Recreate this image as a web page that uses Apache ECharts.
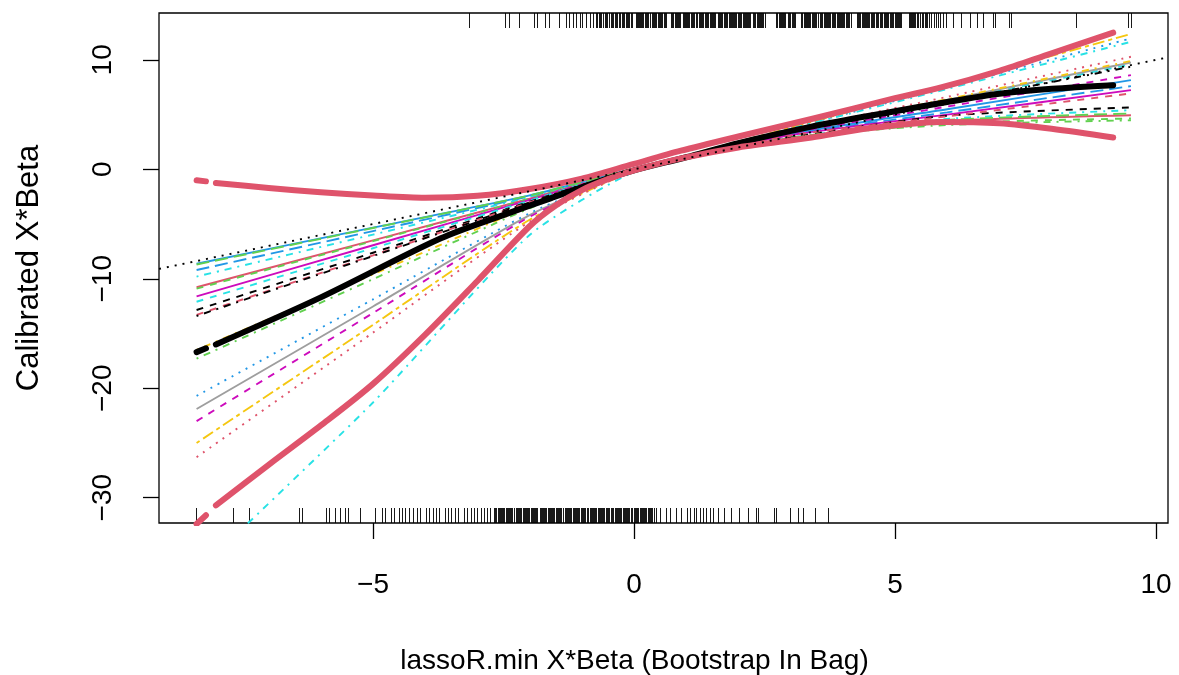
<!DOCTYPE html>
<html><head><meta charset="utf-8">
<script src="https://cdn.jsdelivr.net/npm/echarts@6/dist/echarts.min.js"></script>
<style>html,body{margin:0;padding:0;background:#fff;}#c{width:1179px;height:675px;}</style>
</head><body><div id="c"></div>
<script>
// ---------- data ----------
const xTicks = [-5, 0, 5, 10];
const yTicks = [-30, -20, -10, 0, 10];
const xRange = [-9.10, 10.23];
const yRange = [-32.31, 14.28];
const xTitle = 'lassoR.min X*Beta (Bootstrap In Bag)';
const yTitle = 'Calibrated X*Beta';

// bootstrap calibration curves, all sampled at bootX
const bootX = [-8.38, -5, -2, 0, 3, 6, 9.52];
const bootY = [
  [-8.63, -5.33, -2.38, 0.05, 3.25, 5.49, 8.15],
  [-9.2, -5.64, -2.46, 0.0, 3.17, 5.2, 7.6],
  [-9.8, -5.96, -2.54, 0.0, 2.88, 4.6, 5.4],
  [-10.77, -6.49, -2.67, -0.05, 2.82, 4.4, 4.94],
  [-10.9, -6.56, -2.69, -0.05, 2.78, 4.2, 4.64],
  [-11.6, -6.94, -2.79, 0.0, 3.12, 5.0, 7.23],
  [-12.1, -7.21, -2.86, 0.05, 3.43, 6.25, 9.58],
  [-12.85, -7.62, -2.96, -0.05, 2.92, 4.9, 5.65],
  [-13.3, -7.86, -3.02, 0.0, 3.08, 4.84, 6.93],
  [-13.4, -7.92, -3.03, 0.05, 3.41, 6.13, 9.37],
  [-17.3, -10.03, -3.56, -0.1, 2.9, 4.05, 4.48],
  [-20.7, -11.88, -4.02, -0.1, 3.75, 7.5, 11.96],
  [-21.9, -12.53, -4.19, -0.1, 3.46, 6.34, 9.76],
  [-23.0, -13.13, -4.34, -0.1, 3.31, 5.73, 8.6],
  [-25.0, -14.21, -4.61, -0.15, 3.8, 7.72, 12.36],
  [-26.3, -14.92, -4.79, -0.15, 3.53, 6.62, 10.28],
  [-36.8, -21.3, -6.0, -0.25, 3.71, 7.34, 11.65],
  [-16.5, -9.6, -3.4, 0.0, 3.48, 6.41, 9.9],
  [-8.7, -5.36, -2.39, 0.05, 2.84, 4.5, 5.1]
];

// apparent calibration (thick black)
const apparentX = [-8.38, -8.2, -8.1, -8.01, -6, -3.7, -2.4, -1.6, -0.8, 0, 1, 2, 3.4, 5, 6, 7, 8, 9.18];
const apparentY = [-16.7, -16.35, '-', -16.0, -11.7, -6.3, -4.0, -2.65, -1.3, -0.1, 1.1, 2.4, 3.9, 5.3, 6.15, 6.9, 7.35, 7.69];

// band curves (thick red)
const upperX = [-8.38, -8.2, -8.1, -8.01, -7, -6, -5, -4, -3, -2, -1, 0, 0.9, 2, 3.4, 5, 5.9, 7, 8, 9.18];
const upperY = [-1.0, -1.1, '-', -1.25, -1.7, -2.1, -2.4, -2.6, -2.42, -1.8, -0.85, 0.5, 1.7, 3.0, 4.6, 6.5, 7.5, 9.0, 10.6, 12.48];
const lowerX = [-8.38, -8.2, -8.1, -8.01, -7, -6, -5, -4, -3, -2, -1.5, -1, -0.5, 0, 0.9, 2, 3.4, 4.5, 5.9, 7, 8, 9.18];
const lowerY = [-32.4, -31.6, '-', -30.7, -27.0, -23.4, -19.6, -15.1, -10.2, -5.2, -3.3, -1.9, -0.9, -0.1, 1.0, 2.0, 2.9, 3.75, 4.33, 4.2, 3.7, 2.9];

// ideal line y = x
const idealX = [-9.10, 10.23];
const idealY = [-9.10, 10.23];

// rug values (top = events, bottom = non-events)
const topRug = [-3.16,-2.47,-2.38,-2.20,-1.90,-1.85,-1.69,-1.62,-1.42,-1.30,-1.23,-1.16,-1.11,-1.03,-0.98,-0.91,-0.83,-0.78,
-0.71,-0.66,-0.62,-0.55,-0.51,-0.47,-0.41,-0.36,-0.31,-0.27,-0.22,-0.18,-0.12,-0.08,-0.03,0.04,0.08,0.13,0.17,0.22,0.26,0.31,0.35,0.40,0.44,0.49,0.53,0.58,0.62,0.72,0.76,0.81,0.85,0.90,0.94,0.99,1.03,1.07,1.12,1.16,1.21,1.25,1.30,1.34,1.39,1.43,1.48,1.52,1.57,1.61,1.66,1.70,1.75,1.79,1.84,1.88,1.93,1.97,2.02,2.06,2.11,2.15,2.20,2.24,2.29,2.33,2.38,2.42,2.47,2.51,2.73,2.78,2.82,2.87,2.91,2.96,3.00,3.05,3.09,3.21,3.26,3.30,3.35,3.39,3.44,3.48,3.53,3.57,3.62,3.66,3.71,3.75,3.80,3.84,3.89,3.93,3.98,4.02,4.07,4.11,4.16,4.28,4.32,4.37,4.41,4.46,4.50,4.55,4.59,4.64,4.68,4.73,4.77,4.82,4.86,4.91,4.95,5.00,5.04,5.09,5.13,5.27,5.31,5.36,5.40,5.45,5.52,5.58,5.63,5.70,5.76,5.84,5.92,5.99,
6.12,6.28,6.44,6.59,6.69,6.88,6.92,7.20,7.24,8.48,9.47,9.53];
const topRugDense = [-0.69,-0.64,-0.58,-0.53,-0.44,-0.39,-0.33,-0.25,-0.20,-0.15,-0.10,-0.05,0.06,0.10,0.15,0.19,0.24,0.28,0.37,0.42,0.46,0.51,0.55,0.60,
0.74,0.79,0.83,0.88,0.97,1.01,1.05,1.10,1.14,1.19,1.28,1.32,1.37,1.41,1.46,1.50,1.55,1.64,1.68,1.73,1.77,1.82,1.86,1.91,1.95,2.00,2.04,2.09,2.13,2.18,2.22,2.31,2.36,2.40,2.45,2.49,
2.75,2.80,2.84,2.89,2.98,3.03,3.07,3.23,3.28,3.32,3.37,3.41,3.46,3.50,3.59,3.64,3.68,3.73,3.77,3.82,3.86,3.91,3.95,4.00,4.04,4.09,4.13,
4.30,4.34,4.39,4.43,4.48,4.52,4.57,4.61,4.66,4.75,4.79,4.84,4.88,4.93,4.97,5.02,5.06,5.11,5.29,5.33,5.38,5.43,5.49,5.55,5.61,5.67,5.80,5.88];
const bottomRug = [-8.38,-7.68,-7.37,-6.40,-6.35,-5.89,-5.84,-5.71,-5.63,-5.52,-5.47,-5.24,-4.96,-4.82,-4.77,
-4.64,-4.58,-4.50,-4.44,-4.37,-4.30,-4.22,-4.15,-4.09,-3.98,-3.92,-3.85,-3.78,-3.72,-3.61,-3.55,-3.49,-3.42,-3.36,-3.25,-3.19,-3.12,-3.06,-2.99,-2.93,-2.86,-2.80,-2.74,
-2.68,-2.64,-2.60,-2.56,-2.52,-2.48,-2.44,-2.40,-2.36,-2.32,-2.28,-2.24,-2.20,-2.16,-2.12,-2.08,-2.04,-2.00,-1.96,-1.92,-1.88,-1.84,-1.80,-1.76,-1.72,-1.68,-1.64,-1.60,-1.56,-1.52,-1.48,-1.44,-1.40,-1.36,-1.32,-1.28,-1.24,-1.20,-1.16,-1.12,-1.08,-1.04,-1.00,-0.96,-0.92,-0.88,-0.84,-0.80,-0.76,-0.72,-0.68,-0.64,-0.60,-0.56,-0.52,-0.48,-0.44,-0.40,-0.36,-0.32,-0.28,-0.24,-0.20,-0.16,-0.12,-0.08,-0.04,0.00,0.04,0.08,0.12,0.16,0.20,0.24,0.28,0.32,0.36,0.40,0.43,
0.50,0.63,0.69,0.82,0.91,1.03,1.08,1.15,1.20,1.27,1.33,1.38,1.46,1.52,1.61,1.74,1.87,2.03,2.19,2.35,2.38,2.70,2.73,2.99,3.15,3.24,3.47,3.72];
const bottomRugDense = [-2.66,-2.58,-2.54,-2.50,-2.42,-2.38,-2.34,-2.26,-2.22,-2.18,-2.10,-2.06,-2.02,-1.94,-1.90,-1.86,-1.78,-1.74,-1.70,-1.62,-1.58,-1.54,-1.46,-1.42,-1.38,-1.30,-1.26,-1.22,-1.14,-1.10,-1.06,-0.98,-0.94,-0.90,-0.82,-0.78,-0.74,-0.66,-0.62,-0.58,-0.50,-0.46,-0.42,-0.34,-0.30,-0.26,-0.18,-0.14,-0.10,-0.02,0.02,0.06,0.14,0.18,0.22,0.30,0.34];

// ---------- styles ----------
const bootColor = ['#2297E6','#2297E6','#28E2E5','#DF536B','#61D04F','#CD0BBC','#28E2E5','#000000','#DF536B','#000000','#61D04F','#2297E6','#9E9E9E','#CD0BBC','#F5C710','#DF536B','#28E2E5','#F5C710','#61D04F'];
const bootDash = ['solid','long','dotdash','solid','dashed','solid','dashed','dashed','dashed','dotdash','dotdash','dotted','solid','dashed','twodash','dotted','dotdash','dotdash','long'];
const dashMap = {solid:'solid', dashed:[7,7], dotted:[2,6], dotdash:[2,6,7,6], long:[13,6], twodash:[4,4,12,4]};
const FONT = 'Liberation Sans, Arial, sans-serif';
const FS = 28;

const pairs = (xs, ys) => xs.map((x, i) => [x, ys[i]]);
const minus = v => String(v).replace('-', '\u2212');

const series = [];
bootY.forEach((ys, i) => {
  series.push({
    type: 'line', data: pairs(bootX, ys), showSymbol: false, smooth: 0.2,
    lineStyle: {color: bootColor[i], width: 1.9, type: dashMap[bootDash[i]]}, silent: true
  });
});
const thick = (xs, ys, color) => ({type:'line', data: pairs(xs, ys), showSymbol:false, smooth:0.3, connectNulls:false,
  lineStyle:{color: color, width:6, cap:'round', join:'round'}, silent:true});
series.push(thick(apparentX, apparentY, '#000'));
series.push(thick(upperX, upperY, '#DF536B'));
series.push(thick(lowerX, lowerY, '#DF536B'));
series.push({type:'line', data: pairs(idealX, idealY), showSymbol:false,
  lineStyle:{color:'#000', width:1.9, type:[2,6]}, silent:true});

function rug(vals, atTop) {
  const edge = atTop ? yRange[1] : yRange[0];
  return {
    type: 'custom', silent: true, clip: false,
    data: vals.map(v => [v, edge]),
    renderItem: (params, api) => {
      const p = api.coord([api.value(0), api.value(1)]);
      const x = Math.round(p[0] - 0.5) + 0.5;
      const len = 15;
      return {type: 'line', shape: {x1: x, y1: p[1], x2: x, y2: p[1] + (atTop ? len : -len)},
        style: {stroke: '#000', lineWidth: 1, opacity: 0.9}};
    }
  };
}
series.push(rug(topRug.concat(topRugDense), true));
series.push(rug(bottomRug.concat(bottomRugDense), false));

const chart = echarts.init(document.getElementById('c'), null, {renderer: 'canvas'});
chart.setOption({
  animation: false,
  backgroundColor: '#fff',
  grid: {left: 159, right: 11, top: 13, bottom: 152, show: true, borderColor: '#000', borderWidth: 1.3,
         outerBoundsMode: 'none', containLabel: false},
  xAxis: {
    type: 'value', min: xRange[0], max: xRange[1],
    axisLine: {show: false, onZero: false}, splitLine: {show: false},
    axisTick: {show: true, customValues: xTicks, length: 16, lineStyle: {color: '#000', width: 1.3}},
    axisLabel: {customValues: xTicks, formatter: minus, fontSize: FS, color: '#000', fontFamily: FONT, margin: 48},
    name: xTitle, nameLocation: 'middle', nameGap: 124,
    nameTextStyle: {fontSize: FS, color: '#000', fontFamily: FONT, padding: [0, 58, 0, 0]}
  },
  yAxis: {
    type: 'value', min: yRange[0], max: yRange[1],
    axisLine: {show: false, onZero: false}, splitLine: {show: false},
    axisTick: {show: true, customValues: yTicks, length: 16, lineStyle: {color: '#000', width: 1.3}},
    axisLabel: {customValues: yTicks, formatter: minus, rotate: 90, fontSize: FS, color: '#000', fontFamily: FONT, margin: 42},
    name: yTitle, nameLocation: 'middle', nameGap: 114,
    nameTextStyle: {fontSize: 31, color: '#000', fontFamily: FONT}
  },
  series: series
});
</script></body></html>
